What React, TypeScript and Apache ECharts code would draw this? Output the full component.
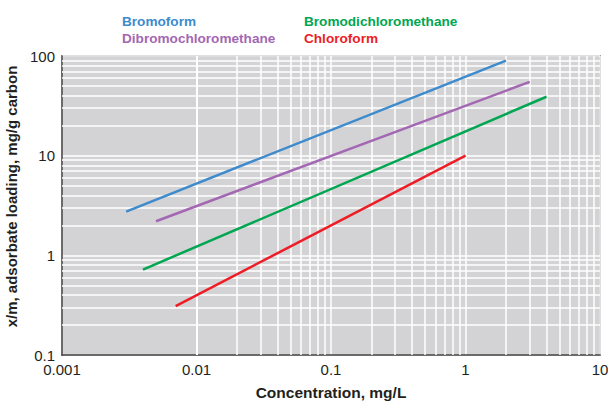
import React, { useEffect, useRef } from "react";
import * as echarts from "echarts";

const seriesNames = ["Bromoform", "Dibromochloromethane", "Bromodichloromethane", "Chloroform"];
const seriesColors = ["#3d8bcd", "#a367b3", "#00a651", "#ee1c25"];
const bromoformX = [0.003, 2.0];
const bromoformY = [2.75, 90];
const dibromoX = [0.005, 3.0];
const dibromoY = [2.2, 55];
const bromodiX = [0.004, 4.0];
const bromodiY = [0.72, 39];
const chloroformX = [0.007, 1.0];
const chloroformY = [0.31, 10];

const xTickLabels = ["0.001", "0.01", "0.1", "1", "10"];
const yTickLabels = ["0.1", "1", "10", "100"];
const xDecades = [0.001, 0.01, 0.1, 1];
const yDecades = [0.1, 1, 10];
const multipliers = [2, 3, 4, 5, 6, 7, 8, 9];

const minorValues = (decades: number[]) => {
  const out: number[] = [];
  decades.forEach((d) => multipliers.forEach((m) => out.push(+(d * m).toPrecision(3))));
  return out;
};

const fmt = (labels: string[]) => (v: number) => {
  const found = labels.find((l) => Math.abs(parseFloat(l) - v) / v < 1e-6);
  return found ?? "";
};

const FONT = "Liberation Sans, Arial, Helvetica, sans-serif";

export default function App() {
  const ref = useRef<HTMLDivElement>(null);
  useEffect(() => {
    if (!ref.current) return;
    const chart = echarts.init(ref.current, null, { renderer: "svg" });
    const xs = [bromoformX, dibromoX, bromodiX, chloroformX];
    const ys = [bromoformY, dibromoY, bromodiY, chloroformY];
    const gridLineStyle = { color: "#ffffff", width: 1.5, type: "solid" as const };
    const legendText = (name: string, i: number) => ({
      name,
      textStyle: { color: seriesColors[i] },
    });
    const legendCommon = {
      orient: "vertical" as const,
      icon: "none",
      itemWidth: 0,
      itemHeight: 14,
      itemGap: 3,
      selectedMode: false,
      padding: 0,
      textStyle: {
        fontFamily: FONT,
        fontSize: 13.6,
        fontWeight: "bold" as const,
      },
    };
    chart.setOption({
      animation: false,
      textStyle: { fontFamily: FONT },
      legend: [
        {
          ...legendCommon,
          left: 117,
          top: 14,
          data: [legendText(seriesNames[0], 0), legendText(seriesNames[1], 1)],
        },
        {
          ...legendCommon,
          left: 299,
          top: 14,
          data: [legendText(seriesNames[2], 2), legendText(seriesNames[3], 3)],
        },
      ],
      grid: {
        left: 62,
        right: 8,
        top: 56,
        bottom: 48,
        containLabel: false,
        outerBoundsMode: "none",
        show: true,
        backgroundColor: "#d3d3d5",
        borderColor: "#555555",
        borderWidth: 1.5,
      },
      xAxis: {
        type: "log",
        logBase: 10,
        min: 0.001,
        max: 10,
        name: "Concentration, mg/L",
        nameLocation: "middle",
        nameGap: 29,
        nameTextStyle: { fontFamily: FONT, fontSize: 15.5, fontWeight: "bold", color: "#231f20" },
        axisLine: { show: true, lineStyle: { color: "#444444", width: 1.5 } },
        axisTick: { show: false },
        axisLabel: { formatter: fmt(xTickLabels), fontFamily: FONT, fontSize: 15, color: "#231f20", margin: 7 },
        splitLine: { show: true, lineStyle: gridLineStyle },
      },
      yAxis: {
        type: "log",
        logBase: 10,
        min: 0.1,
        max: 100,
        name: "x/m, adsorbate loading, mg/g carbon",
        nameLocation: "middle",
        nameGap: 29,
        nameTextStyle: {
          fontFamily: FONT,
          fontSize: 15,
          fontWeight: "bold",
          color: "#231f20",
          padding: [0, 0, 0, 18],
        },
        axisLine: { show: true, lineStyle: { color: "#444444", width: 1.5 } },
        axisTick: { show: false },
        axisLabel: { formatter: fmt(yTickLabels), fontFamily: FONT, fontSize: 15, color: "#231f20", margin: 7 },
        splitLine: { show: true, lineStyle: gridLineStyle },
      },
      series: [
        {
          type: "line",
          name: "__grid",
          data: [],
          z: 1,
          silent: true,
          markLine: {
            z: 1,
            silent: true,
            symbol: ["none", "none"],
            label: { show: false },
            lineStyle: gridLineStyle,
            emphasis: { disabled: true },
            data: [
              ...minorValues(xDecades).map((v) => ({ xAxis: v })),
              ...minorValues(yDecades).map((v) => ({ yAxis: v })),
            ],
          },
        },
        ...seriesNames.map((name, i) => ({
          type: "line",
          name,
          z: 5,
          symbol: "none",
          lineStyle: { color: seriesColors[i], width: 2.5 },
          itemStyle: { color: seriesColors[i] },
          data: xs[i].map((x, j) => [x, ys[i][j]]),
        })),
      ],
    });
    return () => chart.dispose();
  }, []);
  return <div ref={ref} style={{ width: 608, height: 403, position: "absolute", left: 0, top: 0 }} />;
}
